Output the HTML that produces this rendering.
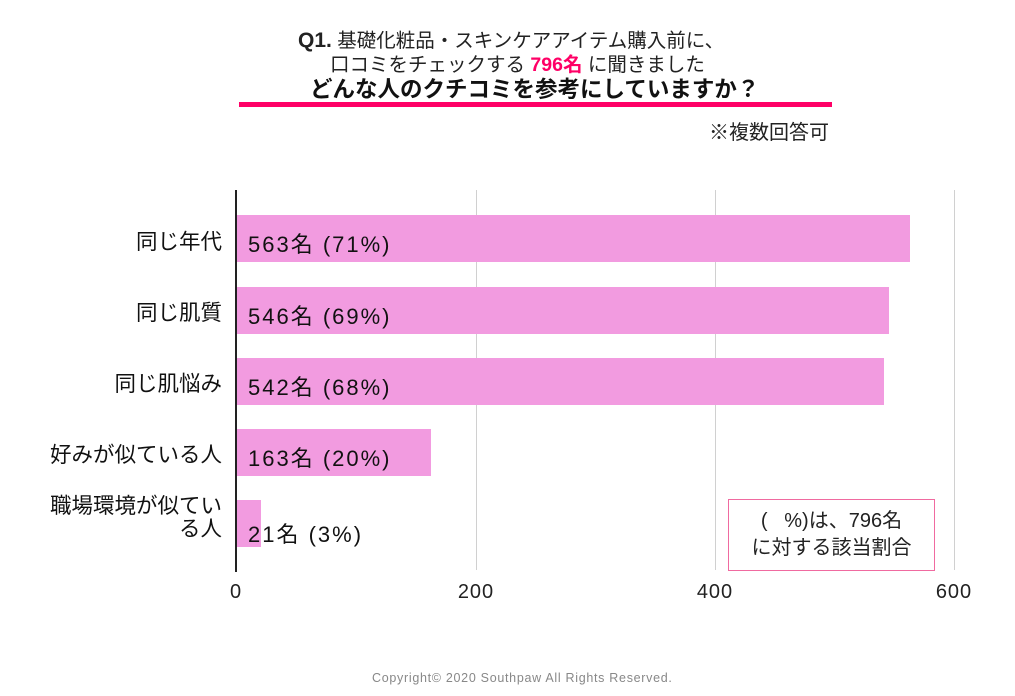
<!DOCTYPE html>
<html><head><meta charset="utf-8"><style>
body{margin:0;width:1015px;height:696px;background:#fff;position:relative;overflow:hidden;font-family:"Liberation Sans","Noto Sans CJK JP",sans-serif;color:#222}
.a{position:absolute;white-space:nowrap}
.g{position:absolute;top:190px;height:380px;width:1px;background:#d0d0d0}
.bar{position:absolute;left:236px;height:47px;background:#f29be0}
.bl{position:absolute;left:248px;font-size:22px;color:#111;letter-spacing:2px}
.cat{position:absolute;right:793px;font-size:21.5px;text-align:right;color:#111}
.t{position:absolute;top:581px;font-size:20px;color:#222;transform:translateX(-50%);letter-spacing:1px}
</style></head><body>
<div class="a" style="left:298px;top:30px;font-size:19.5px;line-height:1"><b style="font-size:21px">Q1.</b> 基礎化粧品・スキンケアアイテム購入前に、</div>
<div class="a" style="left:330px;top:56px;font-size:19.5px;line-height:1">口コミをチェックする <b style="color:#ff0066">796名</b> に聞きました</div>
<div class="a" style="left:310px;top:79px;font-size:22.5px;line-height:1;font-weight:bold;color:#111">どんな人のクチコミを参考にしていますか？</div>
<div class="a" style="left:239px;top:102px;width:593px;height:5px;background:#ff0066"></div>
<div class="a" style="left:709px;top:116px;font-size:20px">※複数回答可</div>

<div class="g" style="left:476px"></div>
<div class="g" style="left:715px"></div>
<div class="g" style="left:954px"></div>

<div class="bar" style="top:215px;width:674px"></div>
<div class="bar" style="top:287px;width:653px"></div>
<div class="bar" style="top:358px;width:648px"></div>
<div class="bar" style="top:429px;width:195px"></div>
<div class="bar" style="top:500px;width:25px"></div>
<div class="a" style="left:235px;top:190px;width:2px;height:382px;background:#222"></div>

<div class="bl" style="top:227px">563名 (71%)</div>
<div class="bl" style="top:299px">546名 (69%)</div>
<div class="bl" style="top:370px">542名 (68%)</div>
<div class="bl" style="top:441px">163名 (20%)</div>
<div class="bl" style="top:517px">21名 (3%)</div>

<div class="cat" style="top:225px">同じ年代</div>
<div class="cat" style="top:296px">同じ肌質</div>
<div class="cat" style="top:367px">同じ肌悩み</div>
<div class="cat" style="top:438px">好みが似ている人</div>
<div class="cat" style="top:495px;line-height:23px">職場環境が似てい<br>る人</div>

<div class="t" style="left:236px">0</div>
<div class="t" style="left:476px">200</div>
<div class="t" style="left:715px">400</div>
<div class="t" style="left:954px">600</div>

<div class="a" style="left:728px;top:499px;width:207px;height:72px;border:1.5px solid #f06aa0;background:#fff;font-size:20px;text-align:center;line-height:27px;padding-top:8px;box-sizing:border-box">(&nbsp;&nbsp;&nbsp;%)は、796名<br>に対する該当割合</div>

<div class="a" style="left:372px;top:671px;font-size:12.5px;color:#888;letter-spacing:0.7px">Copyright© 2020 Southpaw All Rights Reserved.</div>
</body></html>
